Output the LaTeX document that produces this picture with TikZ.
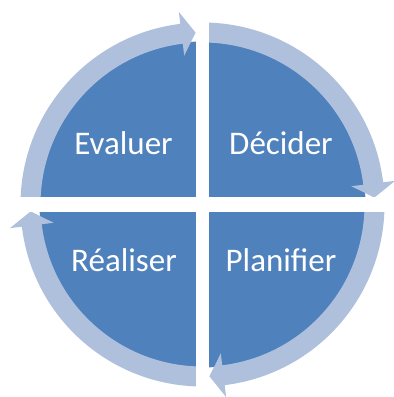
\documentclass[tikz,border=0pt]{standalone}
\usepackage{fontspec}
\setmainfont{Carlito}
\definecolor{darkblue}{HTML}{4F81BD}
\definecolor{lightblue}{HTML}{AFC0DD}
\tikzset{
  quadlabel/.style={text=white, font=\fontsize{33}{33}\selectfont, anchor=base, inner sep=0pt},
  ringarrow/.style={fill=lightblue},
  gapband/.style={fill=white}
}
\newcommand{\cyclearrow}[3]{% start angle, head base angle, tip angle
  \fill[ringarrow] (#1:182pt) arc[start angle=#1, end angle=#2, radius=182pt]
    -- (#2:194pt) -- (#3:172pt) -- (#2:150pt) -- (#2:162pt)
    arc[start angle=#2, end angle=#1, radius=162pt] -- cycle;}
\begin{document}
\begin{tikzpicture}[x=1pt,y=1pt]
\useasboundingbox (0,0) rectangle (394,397);
\coordinate (C) at (202.5,192.5);
\fill[darkblue] (C) circle[radius=163pt];
\begin{scope}[shift={(C)}]
  \cyclearrow{181}{97}{92.3}
  \cyclearrow{91}{7}{2.3}
  \cyclearrow{1}{-83}{-87.7}
  \cyclearrow{-89}{-173}{-177.7}
\end{scope}
\fill[gapband] (196,0) rectangle (209,397);
\fill[gapband] (0,185) rectangle (394,200);
\node[quadlabel] (evaluer) at (123.5,242) {Evaluer};
\node[quadlabel] (decider) at (281,242) {Décider};
\node[quadlabel] (realiser) at (124,125) {Réaliser};
\node[quadlabel] (planifier) at (281,125) {Planifier};
\end{tikzpicture}
\end{document}
